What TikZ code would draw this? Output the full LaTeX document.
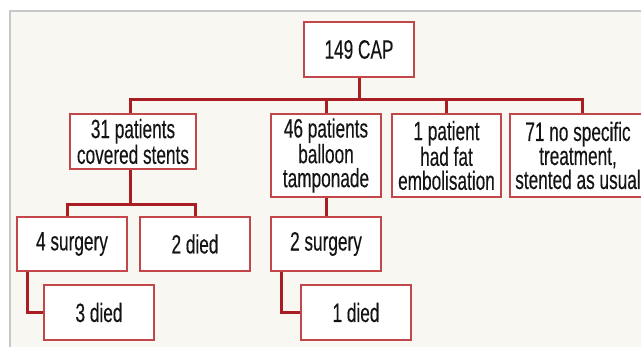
\documentclass[tikz,border=0pt]{standalone}
\usepackage{fontspec}
\setmainfont[FakeStretch=0.65,FakeBold=0.25]{Liberation Sans}
\definecolor{panel}{HTML}{F8F7F2}
\definecolor{edge}{HTML}{C8C8C8}
\definecolor{linered}{HTML}{A81E23}
\definecolor{boxred}{HTML}{C2474B}
\definecolor{txt}{HTML}{141414}
\begin{document}
\begin{tikzpicture}[x=1pt,y=-1pt,
  box/.style={draw=boxred, line width=1.3pt, fill=white, inner sep=0pt,
    align=center, text=txt, font=\fontsize{26.5}{24}\selectfont},
  conn/.style={draw=linered, line width=3pt, line join=miter}]
\useasboundingbox (0,0) rectangle (641,346);
\fill[panel] (10,11) rectangle (650,352);
\draw[edge, line width=1.5pt] (10,352) -- (10,11) -- (650,11);

\node[box, minimum width=110pt, minimum height=55pt] (cap) at (359,49.5) {149 CAP};
\node[box, minimum width=126pt, minimum height=55pt] (b31) at (133,141.5) {31 patients\\covered stents};
\node[box, minimum width=110pt, minimum height=83pt] (b46) at (326,155.5) {46 patients\\balloon\\tamponade};
\node[box, minimum width=109pt, minimum height=83pt] (b1) at (446.5,155.5) {1 patient\\had fat\\embolisation};
\node[box, minimum width=136pt, minimum height=83pt] (b71) at (578,155.5) {71 no specific\\treatment,\\stented as usual};
\node[box, minimum width=110pt, minimum height=54pt] (s4) at (72,244) {4 surgery};
\node[box, minimum width=110pt, minimum height=54pt] (d2) at (195,244) {2 died};
\node[box, minimum width=110pt, minimum height=54pt] (s2) at (326,244) {2 surgery};
\node[box, minimum width=110pt, minimum height=55pt] (d3) at (99,312.5) {3 died};
\node[box, minimum width=110pt, minimum height=55pt] (d1) at (356,312.5) {1 died};

\coordinate (busL) at (130,99);
\coordinate (busR) at (582,99);
\draw[conn] (busL |- b31.north) -- (busL) -- (busR) -- (busR |- b71.north);
\draw[conn] (cap.south) -- (cap.south |- busL);
\draw[conn] (b46.north) -- (b46.north |- busL);
\draw[conn] (b1.north) -- (b1.north |- busL);

\coordinate (jL) at (67,204);
\coordinate (jR) at (195,204);
\coordinate (jM) at (130,204);
\draw[conn] (jM |- b31.south) -- (jM);
\draw[conn] (jL |- s4.north) -- (jL) -- (jR) -- (jR |- d2.north);
\draw[conn] (b46.south) -- (s2.north);
\draw[conn] ([xshift=-45pt]s4.south) |- (d3.west);
\draw[conn] ([xshift=-45pt]s2.south) |- (d1.west);
\end{tikzpicture}
\end{document}
